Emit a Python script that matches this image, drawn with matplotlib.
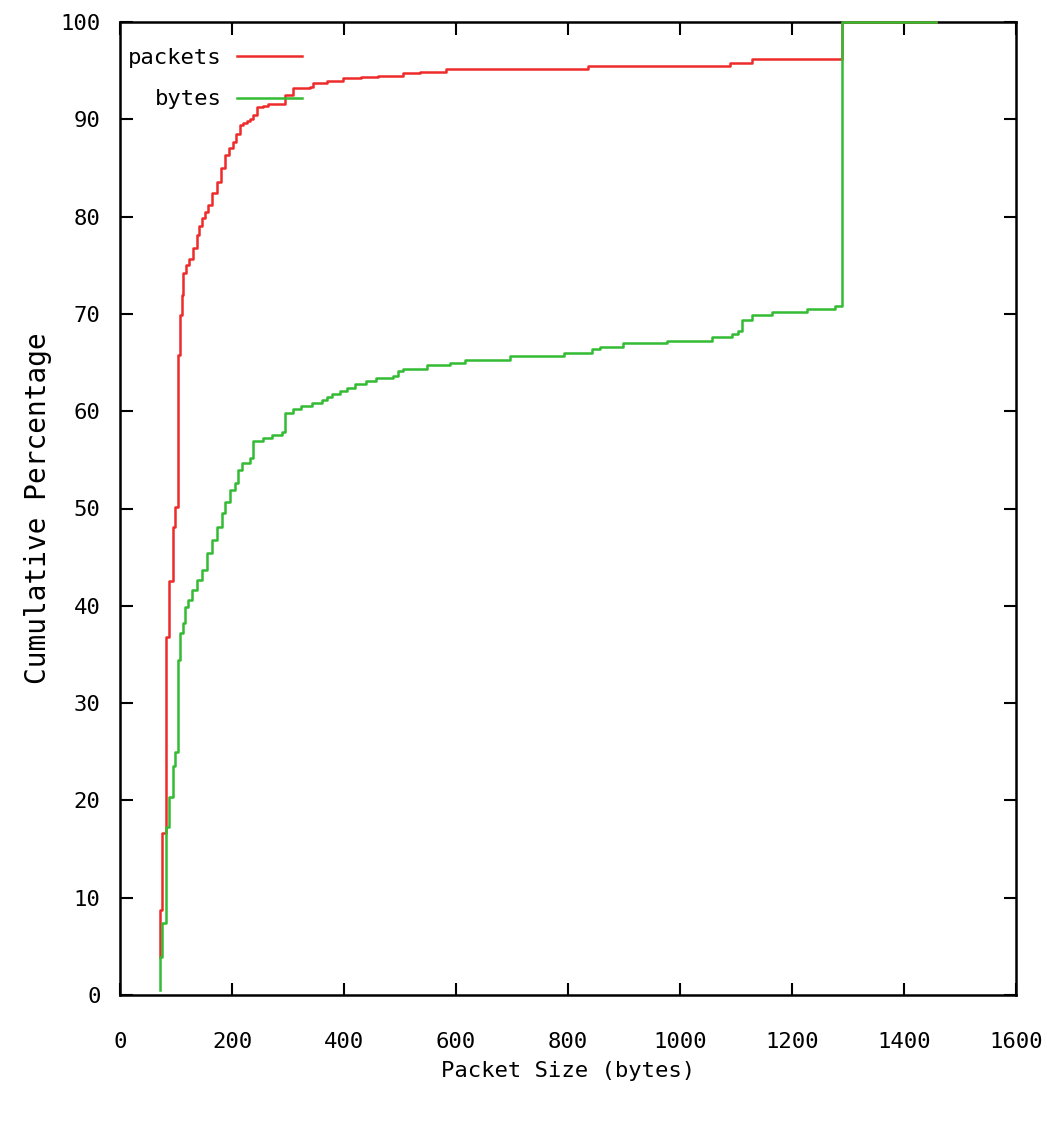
import matplotlib
matplotlib.use("Agg")
import matplotlib.pyplot as plt

# =====================
# DATA (step CDF points)
# =====================
packets_x = [71, 71, 75, 83, 88, 95, 99, 104, 107, 110, 113, 118, 124, 130, 137,
             141, 146, 152, 158, 165, 173, 180, 187, 195, 202, 208, 214, 220, 226, 232,
             238, 244, 255, 265, 295, 309, 339, 345, 369, 399, 430, 460, 505, 536, 583,
             836, 1089, 1128, 1290, 1458]
packets_y = [3.9, 8.7, 16.6, 36.8, 42.6, 48.1, 50.2, 65.8, 69.9, 71.9, 74.2, 75.0, 75.6, 76.8, 78.1,
             79.0, 79.9, 80.5, 81.2, 82.4, 83.6, 85.0, 86.3, 87.0, 87.7, 88.5, 89.4, 89.6, 89.8, 90.0,
             90.4, 91.3, 91.4, 91.6, 92.5, 93.2, 93.35, 93.7, 93.9, 94.2, 94.3, 94.5, 94.8, 94.9, 95.2,
             95.5, 95.8, 96.2, 100, 100]

bytes_x = [71, 71, 75, 83, 88, 95, 99, 104, 108, 113, 116, 122, 128, 137, 146,
           155, 164, 173, 182, 188, 196, 205, 211, 217, 232, 238, 256, 271, 289, 295,
           309, 324, 342, 360, 369, 378, 393, 405, 420, 440, 458, 488, 497, 506, 548,
           589, 616, 696, 792, 842, 857, 899, 976, 1057, 1092, 1104, 1110, 1128, 1164, 1226,
           1277, 1290, 1458]
bytes_y = [0.5, 3.9, 7.4, 17.3, 20.4, 23.5, 25.0, 34.4, 37.2, 38.2, 39.9, 40.6, 41.6, 42.7, 43.7,
           45.4, 46.8, 48.1, 49.5, 50.7, 51.9, 52.6, 54.0, 54.7, 55.2, 56.9, 57.2, 57.6, 57.9, 59.8,
           60.2, 60.5, 60.8, 61.2, 61.5, 61.8, 62.1, 62.4, 62.8, 63.1, 63.4, 63.6, 64.1, 64.3, 64.7,
           65.0, 65.3, 65.7, 66.0, 66.4, 66.6, 67.0, 67.2, 67.6, 67.9, 68.2, 69.4, 69.9, 70.2, 70.5,
           70.8, 100, 100]

x_ticks = [0, 200, 400, 600, 800, 1000, 1200, 1400, 1600]
y_ticks = [0, 10, 20, 30, 40, 50, 60, 70, 80, 90, 100]

# =====================
# PLOT
# =====================
plt.rcParams['font.family'] = ['DejaVu Sans Mono']

fig = plt.figure(figsize=(10.54, 11.21), dpi=100)
ax = fig.add_axes([120 / 1054, 126 / 1121, 896 / 1054, 973 / 1121])

ax.plot(packets_x, packets_y, drawstyle='steps-post', color='#ee2b2b',
        linewidth=1.8, label='packets', clip_on=False, zorder=3)
ax.plot(bytes_x, bytes_y, drawstyle='steps-post', color='#33bb33',
        linewidth=1.8, label='bytes', clip_on=False, zorder=4)

ax.set_xlim(0, 1600)
ax.set_ylim(0, 100)
ax.set_xticks(x_ticks)
ax.set_yticks(y_ticks)

ax.tick_params(direction='in', length=9, width=1.5, top=True, right=True,
               labelsize=16)
ax.tick_params(axis='x', pad=27)
ax.tick_params(axis='y', pad=14)

for sp in ax.spines.values():
    sp.set_linewidth(1.8)
    sp.set_zorder(2)

ax.set_xlabel('Packet Size (bytes)', fontsize=16, labelpad=6)
ax.set_ylabel('Cumulative Percentage', fontsize=20, labelpad=6)

leg = ax.legend(loc='upper left', bbox_to_anchor=(0.009, 0.973),
                markerfirst=False, frameon=False, fontsize=16,
                handlelength=2.9, handletextpad=0.7, labelspacing=0.95,
                borderpad=0, borderaxespad=0)
leg.set_zorder(6)

plt.savefig("out.png", dpi=100)
